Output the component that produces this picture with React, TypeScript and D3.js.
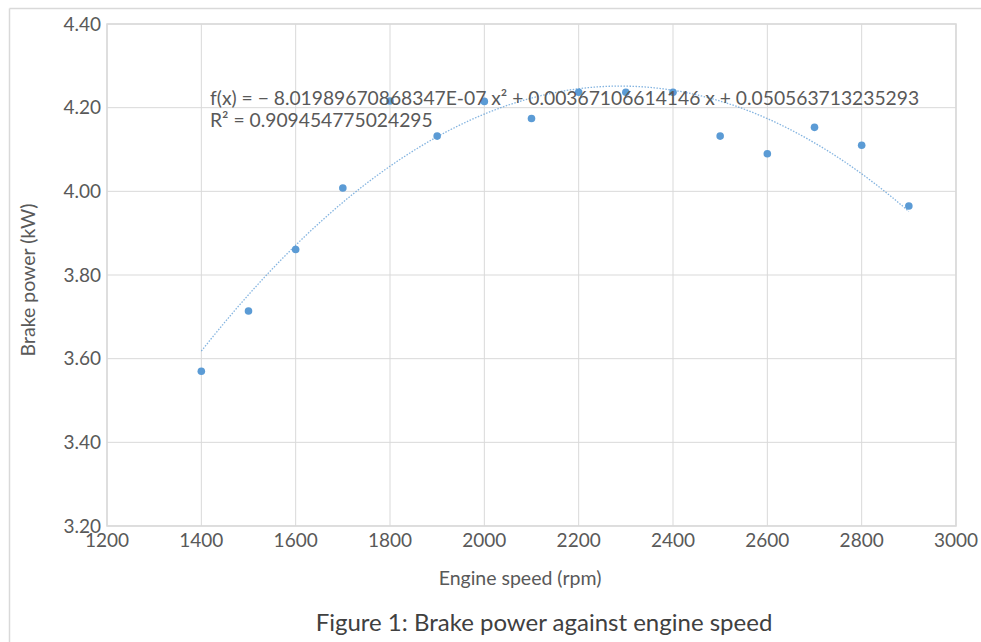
import React from "react";
import * as d3 from "d3";

// Engine speed (rpm) and measured brake power (kW)
const engineSpeed = [1400, 1500, 1600, 1700, 1800, 1900, 2000, 2100, 2200, 2300, 2400, 2500, 2600, 2700, 2800, 2900];
const brakePower = [3.57, 3.714, 3.861, 4.008, 4.216, 4.132, 4.215, 4.174, 4.237, 4.237, 4.237, 4.132, 4.09, 4.153, 4.11, 3.965];

// Polynomial (order 2) trendline coefficients: a·x² + b·x + c
const trendCoefficients = [-8.01989670868347e-7, 0.00367106614146, 0.050563713235293];
const trendLabel = "f(x) = \u2212 8.01989670868347E-07 x\u00B2 + 0.00367106614146 x + 0.050563713235293";
const rSquaredLabel = "R\u00B2 = 0.909454775024295";

const xTicks = [1200, 1400, 1600, 1800, 2000, 2200, 2400, 2600, 2800, 3000];
const yTicks = [3.2, 3.4, 3.6, 3.8, 4.0, 4.2, 4.4];

const W = 981;
const H = 642;
const plot = { left: 107, right: 956, top: 24, bottom: 526 };
const font = "Lato, 'Open Sans', sans-serif";
const tickColor = "#595959";
const gridColor = "#d9d9d9";
const blue = "#5b9bd5";

export default function App() {
  const x = d3.scaleLinear().domain([1200, 3000]).range([plot.left, plot.right]);
  const y = d3.scaleLinear().domain([3.2, 4.4]).range([plot.bottom, plot.top]);

  const [a, b, c] = trendCoefficients;
  const trendX = d3.range(1400, 2900 + 1, 10);
  const line = d3
    .line<number>()
    .x((v) => x(v))
    .y((v) => y(a * v * v + b * v + c))
    .curve(d3.curveLinear);

  return (
    <svg
      width={W}
      height={H}
      style={{ position: "absolute", left: 0, top: 0, display: "block", background: "#fff" }}
    >
      {/* outer chart frame */}
      <line x1={9.5} x2={W} y1={8.5} y2={8.5} stroke={gridColor} strokeWidth={1.5} />
      <line x1={9.5} x2={9.5} y1={8.5} y2={H} stroke={gridColor} strokeWidth={1.5} />

      {/* gridlines */}
      {xTicks.map((t) => (
        <line key={"gx" + t} x1={x(t)} x2={x(t)} y1={plot.top} y2={plot.bottom} stroke={gridColor} strokeWidth={1} />
      ))}
      {yTicks.map((t) => (
        <line key={"gy" + t} x1={plot.left} x2={plot.right} y1={y(t)} y2={y(t)} stroke={gridColor} strokeWidth={1} />
      ))}
      <rect
        x={plot.left}
        y={plot.top}
        width={plot.right - plot.left}
        height={plot.bottom - plot.top}
        fill="none"
        stroke={gridColor}
        strokeWidth={1.5}
      />

      {/* tick labels */}
      {yTicks.map((t) => (
        <text
          key={"ty" + t}
          x={plot.left - 6}
          y={y(t)}
          dy="0.35em"
          textAnchor="end"
          fontFamily={font}
          fontSize={19}
          fill={tickColor}
        >
          {d3.format(".2f")(t)}
        </text>
      ))}
      {xTicks.map((t) => (
        <text
          key={"tx" + t}
          x={x(t)}
          y={plot.bottom + 21}
          textAnchor="middle"
          fontFamily={font}
          fontSize={19}
          fill={tickColor}
        >
          {t}
        </text>
      ))}

      {/* data points */}
      {engineSpeed.map((s, i) => (
        <circle key={"p" + s} cx={x(s)} cy={y(brakePower[i])} r={3.8} fill={blue} />
      ))}

      {/* trendline */}
      <path
        d={line(trendX) || ""}
        fill="none"
        stroke={blue}
        strokeWidth={1.3}
        strokeDasharray="1.5 1.5"
        opacity={0.75}
      />

      {/* trendline equation */}
      <text x={210} y={105} fontFamily={font} fontSize={19.25} fill={tickColor}>
        {trendLabel}
      </text>
      <text x={210} y={127} fontFamily={font} fontSize={19.25} fill={tickColor}>
        {rSquaredLabel}
      </text>

      {/* axis titles */}
      <text
        transform={`translate(35, 280) rotate(-90)`}
        textAnchor="middle"
        fontFamily={font}
        fontSize={19.5}
        fill={tickColor}
      >
        Brake power (kW)
      </text>
      <text x={520} y={585} textAnchor="middle" fontFamily={font} fontSize={19.5} fill={tickColor}>
        Engine speed (rpm)
      </text>

      {/* caption */}
      <text x={544} y={631} textAnchor="middle" fontFamily={font} fontSize={24} fill="#404040">
        Figure 1: Brake power against engine speed
      </text>
    </svg>
  );
}
